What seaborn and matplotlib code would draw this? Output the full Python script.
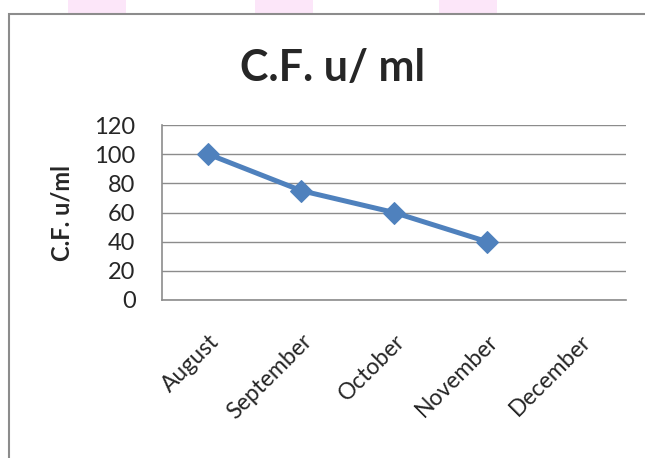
import numpy as np
import pandas as pd
import seaborn as sns
import matplotlib.pyplot as plt
from matplotlib.patches import Rectangle

# data
months = ['August', 'September', 'October', 'November', 'December']
cf_values = [100, 75, 60, 40, np.nan]
y_ticks = [0, 20, 40, 60, 80, 100, 120]

df = pd.DataFrame({'pos': np.arange(len(months)), 'cf': cf_values})

sns.set_style('white')
plt.rcParams['font.family'] = ['Lato', 'DejaVu Sans']

fig = plt.figure(figsize=(6.45, 4.58), dpi=100)
ax = fig.add_axes([0.251, 0.345, 0.72, 0.382])

# faint pink marks at the very top of the page
for x0 in [0.105, 0.395, 0.68]:
    fig.patches.append(Rectangle((x0, 0.972), 0.09, 0.03, transform=fig.transFigure,
                                 facecolor='#fce6f9', edgecolor='none', zorder=0))

# outer chart frame (runs off the right and bottom edges)
fig.patches.append(Rectangle((0.014, -0.05), 1.2, 1.019, transform=fig.transFigure,
                             facecolor='none', edgecolor='#8c8c8c', linewidth=1.5))

sns.lineplot(data=df, x='pos', y='cf', ax=ax, color='#4F81BD', linewidth=3.6,
             marker='D', markersize=11, markeredgecolor='#4F81BD')

ax.set_xlim(-0.5, len(months) - 0.5)
ax.set_ylim(0, 120)
ax.set_yticks(y_ticks)
ax.set_xticks(df['pos'])
ax.set_xticklabels(months, rotation=45, ha='right', rotation_mode='anchor', fontsize=16.5)
ax.tick_params(axis='y', labelsize=17, length=0, pad=19)
ax.tick_params(axis='x', length=0, pad=22)
ax.yaxis.grid(True, color='#8c8c8c', linewidth=1)
ax.set_axisbelow(True)

for side in ['top', 'right']:
    ax.spines[side].set_visible(False)
for side in ['left', 'bottom']:
    ax.spines[side].set_color('#8c8c8c')
    ax.spines[side].set_linewidth(1.2)

ax.set_xlabel('')
ax.set_ylabel('C.F. u/ml', fontsize=17, fontweight='bold')
ax.yaxis.set_label_coords(-0.19, 0.5)
fig.text(0.515, 0.852, 'C.F. u/ ml', ha='center', va='center', fontsize=31, fontweight='bold')

fig.savefig('out.png', dpi=100)
